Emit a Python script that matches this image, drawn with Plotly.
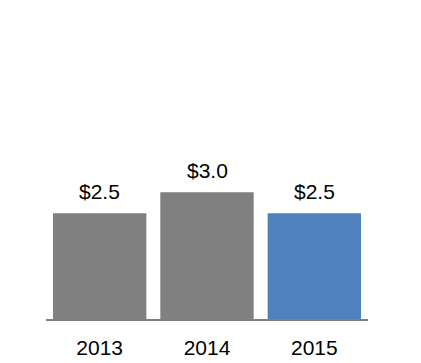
import plotly.graph_objects as go

years = ["2013", "2014", "2015"]
values = [2.5, 3.0, 2.5]
labels = ["$2.5", "$3.0", "$2.5"]
bar_colors = ["#808080", "#808080", "#4F81BD"]

fig = go.Figure()
fig.add_trace(go.Bar(
    x=years, y=values,
    marker=dict(color=bar_colors, line=dict(width=0)),
    hoverinfo="skip",
))

for i, (v, lab) in enumerate(zip(values, labels)):
    fig.add_annotation(
        x=i, y=v, text=lab, showarrow=False,
        xanchor="center", yanchor="bottom", yshift=8,
        font=dict(family="Liberation Sans, Arial", size=21, color="#000000"),
    )

fig.update_layout(
    width=421, height=363,
    margin=dict(l=46, r=53, t=23, b=44, pad=0),
    paper_bgcolor="white", plot_bgcolor="white",
    bargap=0.13,
    showlegend=False,
    font=dict(family="Liberation Sans, Arial", color="#000000"),
)
fig.update_xaxes(
    type="category", range=[-0.5, 2.5], automargin=False,
    showline=True, linecolor="#808080", linewidth=1.5,
    ticks="outside", ticklen=9, tickcolor="rgba(0,0,0,0)",
    tickfont=dict(size=21, color="#000000"),
    showgrid=False, zeroline=False,
)
fig.update_yaxes(
    range=[0, 7], visible=False, showgrid=False, zeroline=False,
    automargin=False,
)

fig.write_html(
    "out.html",
    config={"displayModeBar": False},
    post_script="document.body.style.margin='0';",
)
